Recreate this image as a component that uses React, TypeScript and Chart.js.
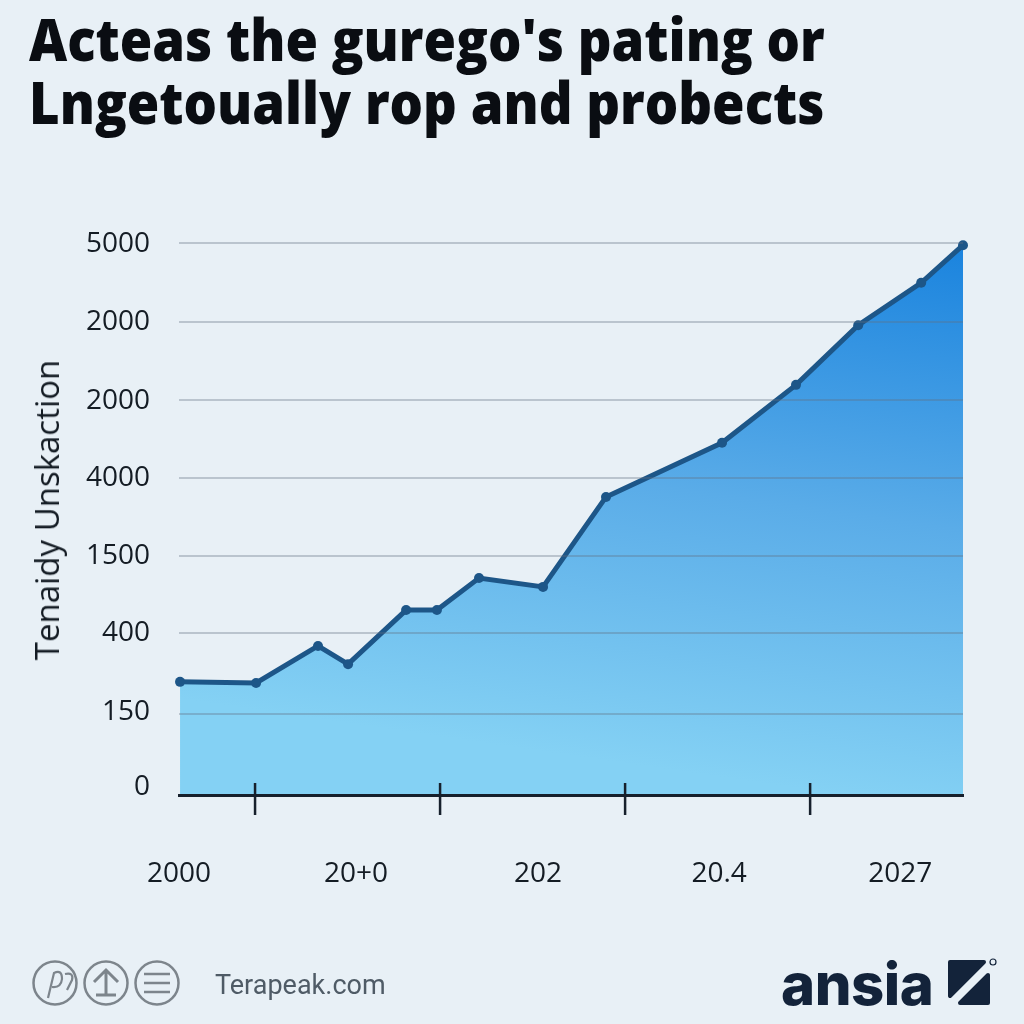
import React, { useEffect, useRef } from "react";
import { Chart, registerables } from "chart.js";

Chart.register(...registerables);

const titleLines = ["Acteas the gurego's pating or", "Lngetoually rop and probects"];
const yAxisTitle = "Tenaidy Unskaction";
const years = [2000.04, 2002.95, 2005.32, 2006.47, 2008.69, 2009.87, 2011.48, 2013.93, 2016.34, 2020.78, 2023.61, 2025.99, 2028.4, 2030];
const values = [1025, 1015, 1350, 1185, 1675, 1675, 1965, 1885, 2700, 3190, 3715, 4255, 4640, 4980];
const gridValues = [0, 735, 1465, 2165, 2870, 3580, 4285, 5000];
const yTickValues = [70, 750, 1465, 2165, 2870, 3570, 4285, 4990];
const yTickLabels = ["0", "150", "400", "1500", "4000", "2000", "2000", "5000"];
const xTickMarks = [2002.91, 2009.99, 2017.07, 2024.15];
const xLabelValues = [2000, 2006.77, 2013.74, 2020.67, 2027.6];
const xTickLabels = ["2000", "20+0", "202", "20.4", "2027"];

const BG = "#e8f0f6";
const INK = "#141c24";

const tickMarksPlugin = {
  id: "tickMarks",
  afterDraw(chart: any) {
    const { ctx, scales } = chart;
    const base = scales.y.getPixelForValue(0);
    ctx.save();
    ctx.strokeStyle = "#16202c";
    ctx.lineWidth = 2.5;
    xTickMarks.forEach((v) => {
      const px = scales.x.getPixelForValue(v);
      ctx.beginPath();
      ctx.moveTo(px, base - 12);
      ctx.lineTo(px, base + 20);
      ctx.stroke();
    });
    ctx.restore();
  },
};

export default function App() {
  const ref = useRef<HTMLCanvasElement>(null);
  useEffect(() => {
    const chart = new Chart(ref.current as HTMLCanvasElement, {
      type: "line",
      plugins: [tickMarksPlugin],
      data: {
        datasets: [
          {
            data: years.map((x, i) => ({ x, y: values[i] })),
            borderColor: "#1d5688",
            borderWidth: 5,
            pointRadius: 5,
            pointBackgroundColor: "#1d5688",
            pointBorderColor: "#1d5688",
            pointBorderWidth: 0,
            tension: 0,
            clip: false,
            fill: "origin",
            backgroundColor: (c: any) => {
              const a = c.chart.chartArea;
              if (!a) return "#5aaee8";
              const g = c.chart.ctx.createLinearGradient(a.right - 120, a.bottom, a.right - 40, a.top);
              g.addColorStop(0, "#84d1f4");
              g.addColorStop(0.5, "#5aace8");
              g.addColorStop(1, "#1b84de");
              return g;
            },
          } as any,
        ],
      },
      options: {
        responsive: false,
        animation: false,
        layout: { padding: { left: 30, right: 61, top: 243, bottom: 0 } },
        plugins: {
          legend: { display: false },
          tooltip: { enabled: false },
          title: { display: false },
        },
        scales: {
          x: {
            type: "linear",
            min: 2000,
            max: 2030,
            border: { color: "#16202c", width: 3, z: 3 },
            grid: { display: false },
            afterBuildTicks: (s: any) => {
              s.ticks = xLabelValues.map((value) => ({ value }));
            },
            afterFit: (s: any) => {
              s.height = 229;
            },
            ticks: {
              autoSkip: false,
              maxRotation: 0,
              padding: 54,
              color: INK,
              font: { family: "'Open Sans'", size: 28 },
              callback: (_v: any, i: number) => xTickLabels[i],
            },
          },
          y: {
            type: "linear",
            min: 0,
            max: 5000,
            position: "left",
            border: { display: false },
            grid: { color: "rgba(96,112,128,0.34)", lineWidth: 2, drawTicks: false, z: 1 },
            afterBuildTicks: (s: any) => {
              s.ticks = gridValues.map((value) => ({ value }));
            },
            ticks: { display: false },
          },
          yLabels: {
            type: "linear",
            min: 0,
            max: 5000,
            position: "left",
            border: { display: false },
            grid: { display: false, drawTicks: false },
            afterBuildTicks: (s: any) => {
              s.ticks = yTickValues.map((value) => ({ value }));
            },
            afterFit: (s: any) => {
              s.width = 149;
            },
            ticks: {
              autoSkip: false,
              padding: 29,
              color: INK,
              font: { family: "'Open Sans'", size: 28 },
              callback: (_v: any, i: number) => yTickLabels[i],
            },
          },
        },
      },
    } as any);
    return () => chart.destroy();
  }, []);

  return (
    <div style={{ position: "absolute", left: 0, top: 0, width: 1024, height: 1024, background: BG, overflow: "hidden" }}>
      <canvas ref={ref} width={1024} height={1024} style={{ display: "block" }} />
      <div
        style={{
          position: "absolute",
          left: 29,
          top: 7,
          font: "800 59px 'Open Sans'",
          lineHeight: "63px",
          color: "#0a0d12",
          whiteSpace: "nowrap",
          transform: "scaleX(0.892)",
          transformOrigin: "0 0",
        }}
      >
        {titleLines.map((t) => (
          <div key={t}>{t}</div>
        ))}
      </div>
      <div
        style={{
          position: "absolute",
          left: 47,
          top: 510,
          font: "33px 'Open Sans'",
          lineHeight: "40px",
          color: INK,
          whiteSpace: "nowrap",
          transform: "translate(-50%, -50%) rotate(-90deg)",
        }}
      >
        {yAxisTitle}
      </div>
      <svg width={160} height={60} viewBox="0 0 160 60" style={{ position: "absolute", left: 28, top: 954 }} fill="none" stroke="#7d858c" strokeWidth={2.5}>
        <circle cx={27} cy={29} r={21.5} />
        <path d="M20 44 L26 19 Q34 15 34 25 Q33 34 24 33 M37 20 Q46 18 44 26 L39 36" strokeWidth={2.2} />
        <circle cx={78} cy={29} r={21.5} />
        <path d="M78 16 L78 41 M66 28 L78 16 L90 28 M68 41 L88 41" strokeWidth={3} />
        <circle cx={129} cy={29} r={21.5} />
        <path d="M116 20 L142 20 M116 29 L142 29 M116 38 L142 38" />
      </svg>
      <div style={{ position: "absolute", left: 215, top: 969, font: "27px Roboto", color: "#4f5b66", lineHeight: "33px" }}>Terapeak.com</div>
      <div style={{ position: "absolute", left: 781, top: 949, font: "800 58px Inter", color: "#13233a", lineHeight: "70px", letterSpacing: -0.5 }}>ansia</div>
      <svg width={56} height={56} viewBox="0 0 56 56" style={{ position: "absolute", left: 944, top: 956 }} fill="#13233a">
        <path d="M6 6 L40 6 L6 40 Z" strokeLinejoin="round" stroke="#13233a" strokeWidth={4} />
        <path d="M44 19 L44 47 L16 47 Z" strokeLinejoin="round" stroke="#13233a" strokeWidth={4} />
        <circle cx={49} cy={6} r={3} fill="none" stroke="#13233a" strokeWidth={1.2} />
      </svg>
    </div>
  );
}
